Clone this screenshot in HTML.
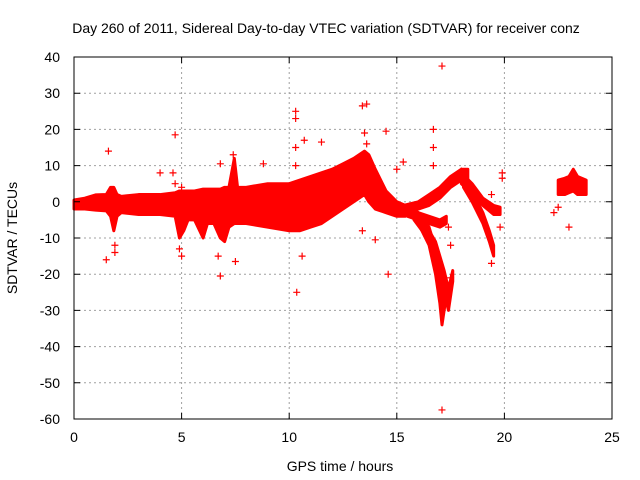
<!DOCTYPE html>
<html><head><meta charset="utf-8"><style>
html,body{margin:0;padding:0;background:#fff}
svg{display:block;font-family:"Liberation Sans",sans-serif}
</style></head><body>
<svg id="chart" width="640" height="480" viewBox="0 0 640 480">
<rect width="640" height="480" fill="#fff"/>
<text x="326" y="33" font-size="14" text-anchor="middle" fill="#000">Day 260 of 2011, Sidereal Day-to-day VTEC variation (SDTVAR) for receiver conz</text>
<g id="grid"></g>
<g id="marks"></g>
<g id="axes"></g>
<text x="340" y="471" font-size="14" text-anchor="middle">GPS time / hours</text>
<text transform="translate(17,238) rotate(-90)" font-size="14" text-anchor="middle">SDTVAR / TECUs</text>
</svg>
<script>
const xTicks=[0,5,10,15,20,25];
const yTicks=[40,30,20,10,0,-10,-20,-30,-40,-50,-60];
// main dense band
const mainT=[0,0.5,1,1.5,1.7,1.85,2.0,2.2,3,4,4.7,4.9,5.1,5.3,5.6,6.0,6.2,6.5,6.8,7.0,7.2,7.45,7.6,8,9,10,10.5,11,11.5,12,12.5,13,13.5,13.7,14,14.5,15,15.4];
const mainLo=[-2,-2,-2.3,-2.5,-4,-8,-4,-3,-3.5,-3.5,-4,-10,-8,-5,-5,-10,-6,-6,-10,-11,-7,-6,-6,-6,-7,-8,-8,-7,-6,-4,-2,0,2,0,-2,-3,-4,-4];
const mainHi=[0.5,1,1.9,2,4,4,2,1.5,2,2,2.5,3,3,3,3,3.5,3.5,3.5,3.5,4,4,12,4,4,5,5,6,7,8,9,10.5,12,14,13,9,3,0,-1];
// branches
const riseT=[15.3,16,16.5,17,17.5,18,18.3];
const riseLo=[-3,-2,-1,1,4,6,6];
const riseHi=[-1,0,2,4,7,9,9];
const fallAT=[18,18.5,19,19.5,19.8];
const fallALo=[5,2,-1,-3.5,-3.5];
const fallAHi=[8,5,1,-1,-1.5];
const fallBT=[18.1,18.5,19,19.3,19.5];
const fallBLo=[4,0,-6,-11,-15];
const fallBHi=[7,3,-3,-8,-12];
const dropAT=[15.5,16,16.5,16.8,17,17.1,17.25];
const dropALo=[-3,-6,-12,-20,-28,-34,-28];
const dropAHi=[-1,-3,-7,-13,-20,-27,-24];
const dropBT=[15.8,16.3,16.8,17.2,17.4,17.6];
const dropBLo=[-5,-9,-16,-25,-30,-22];
const dropBHi=[-3,-6,-11,-19,-24,-19];
const sideT=[15.5,16,16.5,17,17.3];
const sideLo=[-4,-5,-6,-7,-6];
const sideHi=[-2,-3,-4,-5,-4];
const blobT=[22.5,22.8,23,23.2,23.4,23.8];
const blobLo=[2,2,2.5,3,2,2];
const blobHi=[6,6.5,7,9,7,6];
// outliers
const outT=[1.6,1.5,1.9,1.9,4.0,4.7,4.6,4.7,5.0,4.9,5.0,6.8,6.7,6.8,7.5,7.4,8.8,10.3,10.3,10.35,10.6,10.7,11.5,13.4,13.6,14.5,14.6,14.0,13.4,15.3,16.7,16.7,16.7,17.1,17.1,17.5,17.4,17.5,18.0,19.4,19.4,19.9,19.9,19.8,22.3,22.5,23.0,13.5,13.6,15.0,10.3,10.3];
const outV=[14,-16,-14,-12,8,18.5,8,5,4,-13,-15,10.5,-15,-20.5,-16.5,13,10.5,25,23,-25,-15,17,16.5,26.5,27,19.5,-20,-10.5,-8,11,20,15,10,37.5,-57.5,-21,-7,-12,8.5,-17,2,8,6.5,-7,-3,-1.5,-7,19,16,9,15,10];

const X0=74,X1=612,Y0=419,Y1=57;
const xs=t=>X0+(t-0)/25*(X1-X0);
const ys=v=>Y0-(v+60)/100*(Y0-Y1);
const NS='http://www.w3.org/2000/svg';
const mk=(tag,attrs,parent)=>{const e=document.createElementNS(NS,tag);for(const k in attrs)e.setAttribute(k,attrs[k]);parent.appendChild(e);return e;};
const grid=document.getElementById('grid'),marks=document.getElementById('marks'),axes=document.getElementById('axes');
xTicks.forEach(t=>{
  if(t>0&&t<25){const g=mk('line',{x1:xs(t),x2:xs(t),y1:Y1,y2:Y0,stroke:'#a0a0a0','stroke-dasharray':'2,3'},grid);
  
  }
  const tk=mk('path',{d:`M${xs(t)},${Y0}v-6M${xs(t)},${Y1}v6`,stroke:'#000'},axes);
  
  
  const l=mk('text',{x:xs(t),y:Y0+23,'font-size':14,'text-anchor':'middle'},axes);l.textContent=t;
  
  
});
yTicks.forEach(v=>{
  if(v>-60&&v<40){const g=mk('line',{x1:X0,x2:X1,y1:ys(v),y2:ys(v),stroke:'#a0a0a0','stroke-dasharray':'2,3'},grid);
  
  }
  const tk=mk('path',{d:`M${X0},${ys(v)}h6M${X1},${ys(v)}h-6`,stroke:'#000'},axes);
  
  
  const l=mk('text',{x:X0-14,y:ys(v)+5,'font-size':14,'text-anchor':'end'},axes);l.textContent=v;
  
  
});
const fr=mk('rect',{x:X0,y:Y1,width:X1-X0,height:Y0-Y1,fill:'none',stroke:'#000'},axes);


function band(T,L,H,name){
  let d='M'+T.map((t,i)=>xs(t)+','+ys(H[i])).join('L');
  for(let i=T.length-1;i>=0;i--)d+='L'+xs(T[i])+','+ys(L[i]);
  d+='Z';
  const p=mk('path',{d:d,fill:'#ff0000',stroke:'#ff0000','stroke-width':3,'stroke-linejoin':'round'},marks);
  
  
}
band(mainT,mainLo,mainHi,'main-band');
band(riseT,riseLo,riseHi,'rising-branch');
band(fallAT,fallALo,fallAHi,'falling-branch-a');
band(fallBT,fallBLo,fallBHi,'falling-branch-b');
band(dropAT,dropALo,dropAHi,'drop-branch-a');
band(dropBT,dropBLo,dropBHi,'drop-branch-b');
band(sideT,sideLo,sideHi,'side-branch');
band(blobT,blobLo,blobHi,'late-cluster');
outT.forEach((t,i)=>{
  const x=xs(t),y=ys(outV[i]);
  const p=mk('path',{d:`M${x-3.5},${y}h7M${x},${y-3.5}v7`,stroke:'#ff0000','stroke-width':1.2},marks);
  
  
});
</script>
</body></html>
